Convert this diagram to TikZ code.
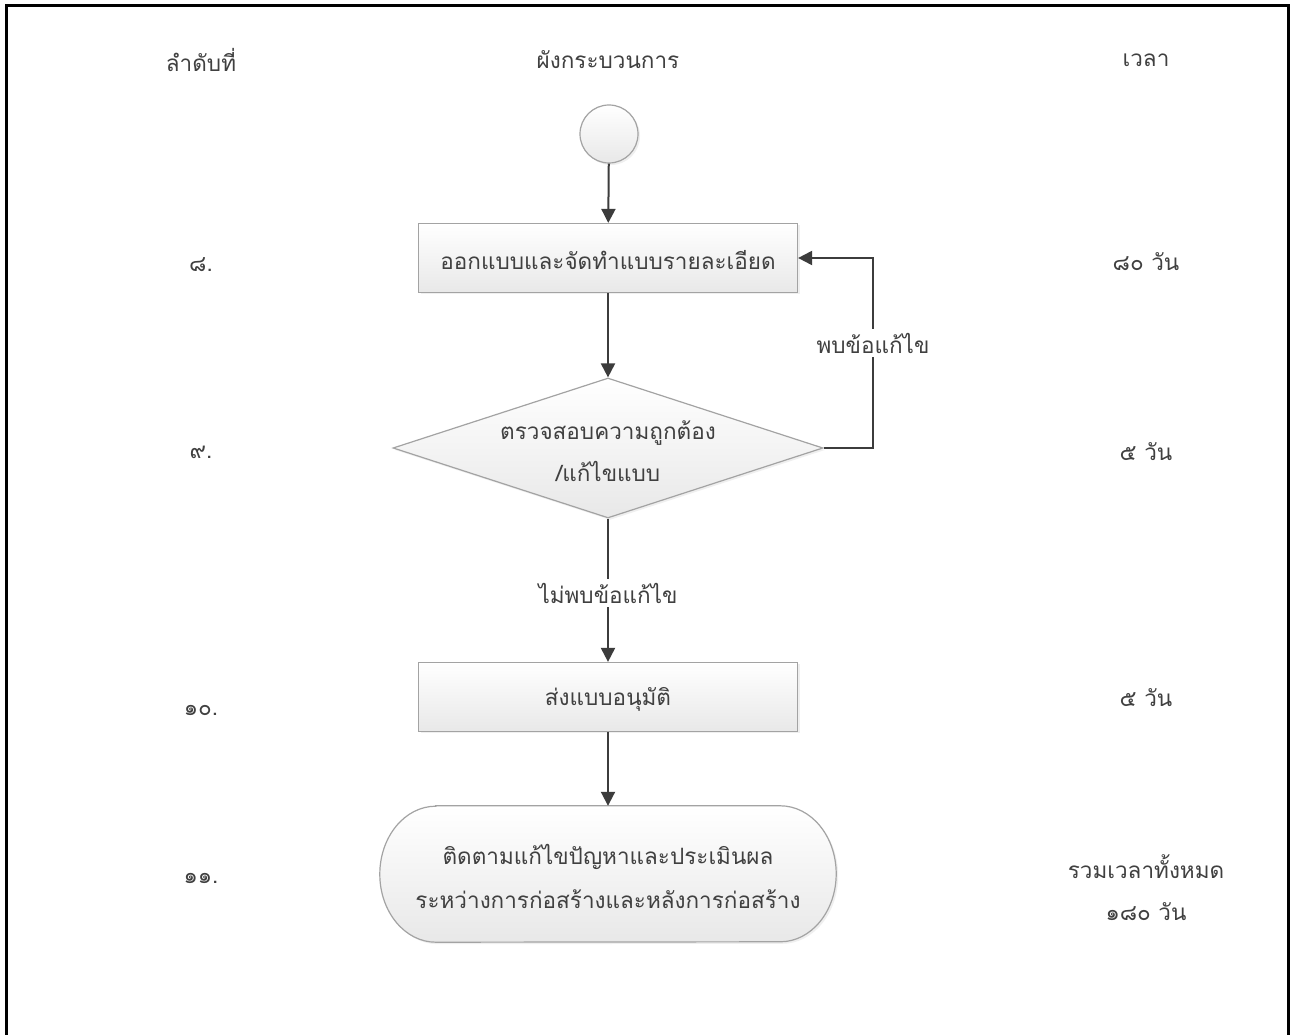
\documentclass[tikz,border=0pt]{standalone}
\usepackage{fontspec}
\setmainfont[Script=Thai]{Loma}
\usetikzlibrary{shapes.geometric,arrows.meta,shadows}
\definecolor{ink}{HTML}{404040}
\definecolor{wire}{HTML}{3C3C3C}
\definecolor{edge}{HTML}{A3A3A3}
\begin{document}
\begin{tikzpicture}[x=1pt,y=1pt,
  txt/.style={text=ink,font=\fontsize{22.5}{42}\selectfont,inner sep=0pt,align=center},
  boxfill/.style={top color=white,bottom color=black!9,draw=edge,line width=1.2pt,
    drop shadow={shadow xshift=2pt,shadow yshift=-2pt,fill=black!12}},
  process/.style={boxfill,rectangle,minimum width=379pt,minimum height=69pt,inner sep=0pt},
  decision/.style={boxfill,diamond,minimum width=430pt,minimum height=140pt,inner sep=0pt},
  startnode/.style={boxfill,circle,minimum size=58pt,inner sep=0pt},
  flow/.style={draw=wire,line width=2pt,-{Triangle[length=14pt,width=14pt]}},
  plain/.style={draw=wire,line width=2pt}]
\useasboundingbox (0,0) rectangle (1290,1034);
\fill[white] (0,0) rectangle (1290,1034);
% page frame (its lower edge lies below the visible area)
\draw[line width=3pt] (6,-20) -- (6,1028) -- (1288.5,1028) -- (1288.5,-20);

% column headings
\node[txt] (hnum)  at (201,974) {ลำดับที่};
\node[txt] (hflow) at (608,974) {ผังกระบวนการ};
\node[txt] (htime) at (1146,974) {เวลา};

% flow chart
\node[startnode] (start) at (609,900) {};
\node[process] (design) at (608,776) {};
\node[txt] (designtxt) at ([yshift=-2pt]design.center) {ออกแบบและจัดทำแบบรายละเอียด};
\node[decision] (check) at (608,586) {};
\node[txt] (checktxt) at ([yshift=-3pt]check.center) {ตรวจสอบความถูกต้อง\\/แก้ไขแบบ};
\node[process] (approve) at (608,337) {};
\node[txt] (approvetxt) at ([yshift=-2pt]approve.center) {ส่งแบบอนุมัติ};
\node[minimum width=456pt,minimum height=136pt,inner sep=0pt] (follow) at (608,160) {};
\path[boxfill]
  ([xshift=56pt]follow.north west) -- ([xshift=-56pt]follow.north east)
  arc[start angle=90,end angle=-90,x radius=56pt,y radius=68pt]
  -- ([xshift=56pt]follow.south west)
  arc[start angle=270,end angle=90,x radius=56pt,y radius=68pt] -- cycle;
\node[txt,font=\fontsize{22.5}{44}\selectfont] (followtxt) at ([yshift=-2pt]follow.center) {ติดตามแก้ไขปัญหาและประเมินผล\\ระหว่างการก่อสร้างและหลังการก่อสร้าง};

% connectors
\coordinate (loopbot) at (873,586);
\coordinate (looptop) at (873,776);
\draw[flow] (start) -- (design);
\draw[flow] (design) -- (check);
\draw[flow] (check.east) -- (loopbot) -- (looptop) -- (design.east);
\node[txt,fill=white,inner sep=4pt] (found) at (873,691) {พบข้อแก้ไข};
\draw[flow] (check.south) -- (approve.north);
\node[txt,fill=white,inner sep=4pt] (notfound) at (608,441) {ไม่พบข้อแก้ไข};
\draw[flow] (approve.south) -- (follow.north);

% step numbers
\node[txt] (n8)  at (201,769) {๘.};
\node[txt] (n9)  at (201,582) {๙.};
\node[txt] (n10) at (201,324) {๑๐.};
\node[txt] (n11) at (201,156) {๑๑.};

% durations
\node[txt] (t8)  at (1146,772) {๘๐ วัน};
\node[txt] (t9)  at (1146,582) {๕ วัน};
\node[txt] (t10) at (1146,336) {๕ วัน};
\node[txt] (tsum) at (1146,146) {รวมเวลาทั้งหมด\\๑๘๐ วัน};
\end{tikzpicture}
\end{document}
